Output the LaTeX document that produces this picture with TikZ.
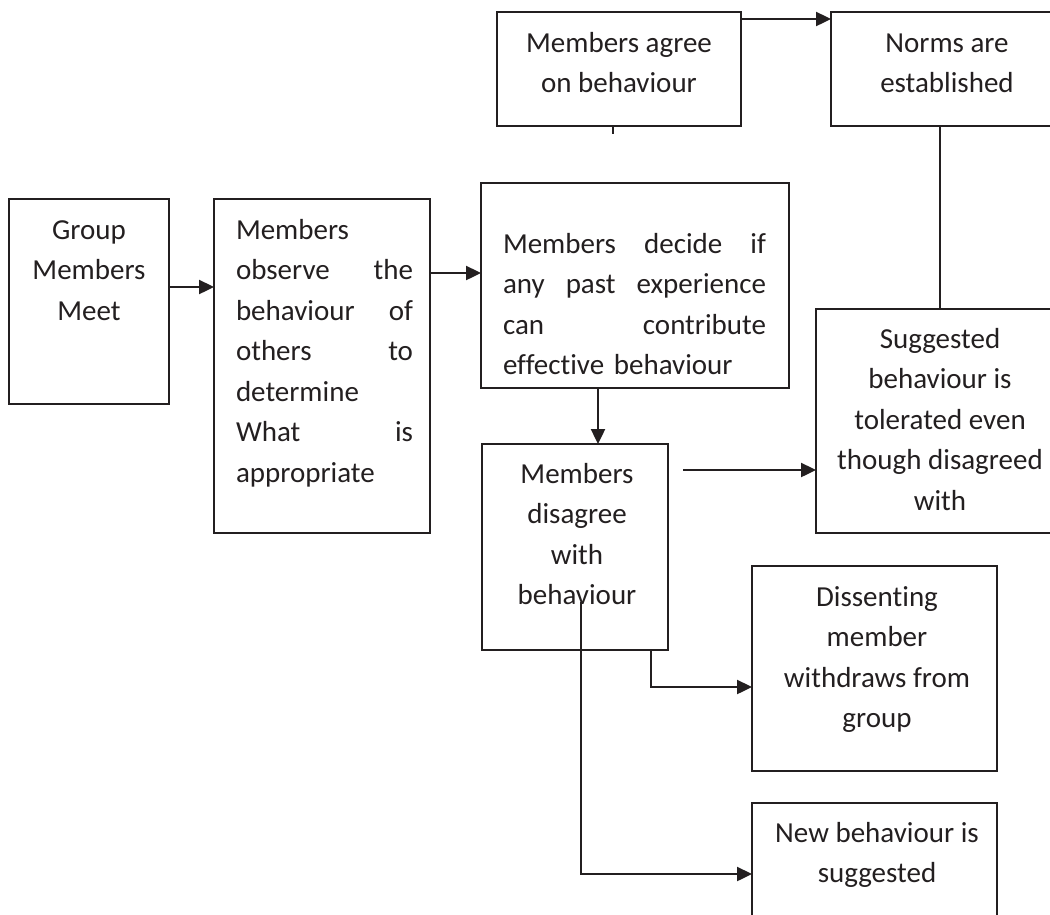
\documentclass[tikz,border=0pt]{standalone}
\usepackage{fontspec}
\setmainfont{Carlito}[Ligatures=NoCommon]
\usetikzlibrary{arrows.meta,calc}
\definecolor{ink}{HTML}{231F20}
% invisible strut that fixes the first baseline 28pt below the top of a text block
\newcommand{\firstline}{\vrule height 28pt depth 0pt width 0pt}

\begin{document}
\begin{tikzpicture}[x=1pt,y=-1pt,
  box/.style={draw=ink,line width=1.9pt,inner sep=0pt,outer sep=0pt},
  txt/.style={inner sep=0pt,outer sep=0pt,text=ink,align=center,
              font=\fontsize{29}{40.5}\selectfont},
  jtxt/.style={txt,align=left},
  link/.style={draw=ink,line width=2.4pt},
  arr/.style={link,-{Triangle[length=15pt,width=14pt]}}]

\useasboundingbox (0,0) rectangle (1050,914);
\clip (0,0) rectangle (1050,914);

% boxes
\node[box,minimum width=160pt,minimum height=205pt] (A) at (89,301.5) {};
\node[box,minimum width=216pt,minimum height=334pt] (B) at (322,366) {};
\node[box,minimum width=308pt,minimum height=205pt] (C) at (635,285.5) {};
\node[box,minimum width=244pt,minimum height=114pt] (D) at (619,69) {};
\node[box,minimum width=232pt,minimum height=114pt] (N) at (947,69) {};
\node[box,minimum width=248pt,minimum height=224pt] (S) at (940,421) {};
\node[box,minimum width=186pt,minimum height=206pt] (E) at (575,547) {};
\node[box,minimum width=245pt,minimum height=205pt] (W) at (874.5,668.5) {};
\node[box,minimum width=245pt,minimum height=205pt] (New) at (874.5,905.5) {};

% texts
\node[txt,anchor=north] (tA) at (89,211) {\firstline Group\\Members\\Meet};
\node[jtxt,anchor=north west,text width=177pt] (tB) at (236,211)
  {\firstline Members\\observe\hfill the\\behaviour\hfill of\\others\hfill to\\determine\\What\hfill is\\appropriate};
\node[jtxt,anchor=north west,text width=263pt] (tC) at (503,225)
  {\firstline Members\hfill decide\hfill if\\any\hfill past\hfill experience\\can\hfill contribute\\effective behaviour};
\node[txt,anchor=north] (tD) at (619,24) {\firstline Members agree\\on behaviour};
\node[txt,anchor=north] (tN) at (947,24) {\firstline Norms are\\established};
\node[txt,anchor=north] (tS) at (940,320) {\firstline Suggested\\behaviour is\\tolerated even\\though disagreed\\with};
\node[txt,anchor=north] (tE) at (577,455) {\firstline Members\\disagree\\with\\behaviour};
\node[txt,anchor=north] (tW) at (877,578) {\firstline Dissenting\\member\\withdraws from\\group};
\node[txt,anchor=north] (tNew) at (877,814) {\firstline New behaviour is\\suggested};

% connectors
\coordinate (ab) at ($(A.east)+(0,-14.5)$);
\draw[arr] (ab) -- (ab -| B.west);

\coordinate (bc) at ($(B.east)+(0,-93)$);
\draw[arr] (bc) -- (bc -| C.west);

\coordinate (ce) at ($(C.south)+(-37,0)$);
\draw[arr] (ce) -- (ce |- E.north);

\coordinate (dn) at ($(D.east)+(0,-50)$);
\draw[arr] (dn) -- (dn -| N.west);

\coordinate (dt) at ($(D.south)+(-6,0)$);
\coordinate (dtend) at ($(dt)+(0,8)$);
\draw[link] (dt) -- (dtend);

\coordinate (ns) at ($(N.south)+(-7,0)$);
\draw[link] (ns) -- (ns |- S.north);

\coordinate (es) at (683,470);
\draw[arr] (es) -- (es -| S.west);

\coordinate (ew) at ($(E.south)+(76,0)$);
\coordinate (ewt) at ($(W.west)+(0,18.5)$);
\draw[arr] (ew) |- (ewt);

\coordinate (ei) at (581,602);
\coordinate (nwt) at ($(New.west)+(0,-31.5)$);
\draw[arr] (ei) |- (nwt);
\end{tikzpicture}
\end{document}
